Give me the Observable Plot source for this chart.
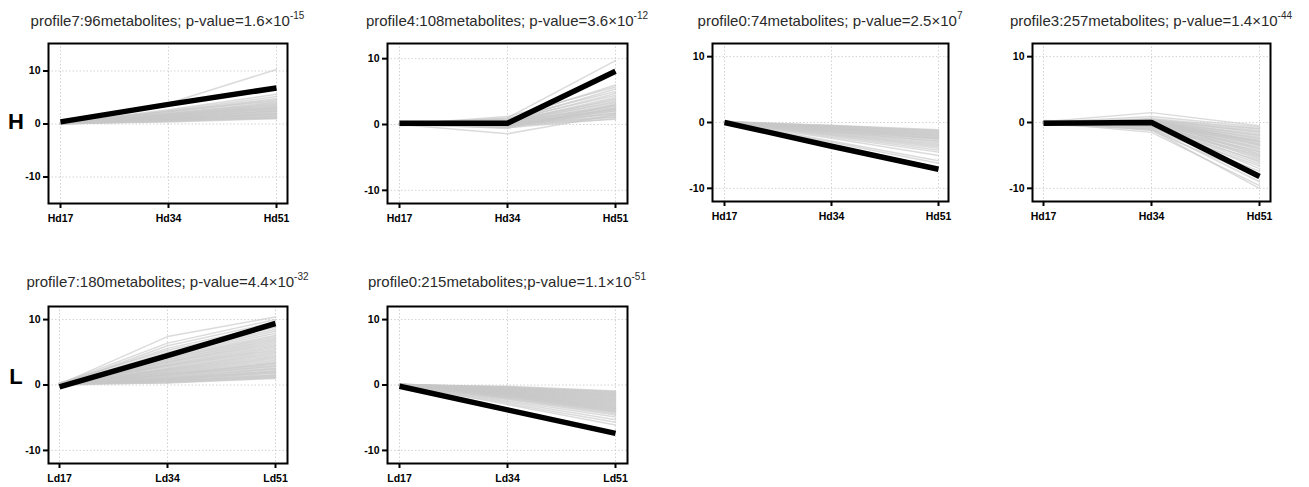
<!DOCTYPE html>
<html><head><meta charset="utf-8">
<script src="https://cdn.jsdelivr.net/npm/d3@7"></script>
<script src="https://cdn.jsdelivr.net/npm/@observablehq/plot@0.6"></script>
<style>
body{margin:0;background:#fff;}
#wrap{position:relative;width:1309px;height:487px;font-family:"Liberation Sans",Arial,sans-serif;overflow:hidden;}
.title{position:absolute;font-size:15px;line-height:15px;color:#2a2a2a;white-space:nowrap;transform:translateX(-50%);}
.title sup{font-size:10px;line-height:10px;vertical-align:0;position:relative;top:-7px;}
.row{position:absolute;font-size:22px;line-height:22px;font-weight:bold;color:#000;transform:translateX(-50%);}
.panel{position:absolute;}
</style></head><body><div id="wrap"></div><script>
// ---- data ----
const timesH = ["Hd17","Hd34","Hd51"];
const timesL = ["Ld17","Ld34","Ld51"];
const yTicks = [-10, 0, 10];
const rowLabels = ["H","L"];
const titleText = [
  "profile7:96metabolites; p-value=1.6×10",
  "profile4:108metabolites; p-value=3.6×10",
  "profile0:74metabolites; p-value=2.5×10",
  "profile3:257metabolites; p-value=1.4×10",
  "profile7:180metabolites; p-value=4.4×10",
  "profile0:215metabolites;p-value=1.1×10"
];
const titleExp = ["-15","-12","7","-44","-32","-51"];

// panel 1 (H, profile7)
const p1_17 = [0.1,0.2,0.0,0.3,0.1,0.2,0.0,0.1,0.3,0.2,0.0,0.1,0.2,0.0,0.1,0.3,0.2,0.1,0.0,0.2,0.1,0.3,0.0,0.1,0.2,0.0,0.1,0.2,0.0,0.1,0.0,0.1];
const p1_34 = [3.9,2.7,2.5,2.4,2.2,2.3,2.0,1.9,2.0,1.7,1.8,1.6,1.7,1.5,1.5,1.3,1.4,1.2,1.3,1.1,1.1,1.0,1.0,0.9,0.9,0.8,0.7,0.7,0.6,0.5,0.5,0.4];
const p1_51 = [10.3,5.6,5.2,4.8,4.6,4.4,4.2,4.0,3.8,3.7,3.5,3.4,3.2,3.1,3.0,2.9,2.8,2.6,2.5,2.4,2.3,2.1,2.0,1.9,1.8,1.7,1.5,1.4,1.3,1.2,1.1,1.0];
const p1_prof = [0.4,3.7,6.8];

// panel 2 (H, profile4)
const p2_17 = [0.1,0.2,0.0,0.3,-0.1,0.1,0.2,0.0,0.1,-0.2,0.2,0.0,0.1,0.3,-0.1,0.0,0.2,0.1,0.0,-0.1,0.1,0.2,0.0,0.1,-0.1,0.0,0.2,0.1,0.0,0.1,0.2,0.0];
const p2_34 = [1.0,0.8,1.2,0.6,0.9,0.5,0.7,0.4,0.3,0.6,0.2,0.5,0.1,0.3,0.0,0.4,-0.1,0.2,-0.2,0.1,-0.3,0.0,-1.4,-0.2,-0.4,0.1,-0.5,-0.3,0.2,-0.6,-0.1,0.0];
const p2_51 = [9.7,6.0,5.7,5.4,5.0,4.7,4.4,4.1,3.9,3.7,3.5,3.3,3.1,2.9,2.8,2.6,2.4,2.3,2.1,2.0,1.8,1.7,1.5,1.4,1.2,1.1,0.9,2.5,1.6,3.0,0.8,2.2];
const p2_prof = [0.2,0.2,8.1];

// panel 3 (H, profile0)
const p3_17 = [0.0,0.1,0.2,0.0,0.1,0.0,0.2,0.1,0.0,0.1,0.2,0.0,0.1,0.0,0.2,0.1,0.0,0.1,0.0,0.2,0.1,0.0,0.1,0.0,0.1,0.0,0.1,0.0];
const p3_34 = [-0.4,-0.5,-0.5,-0.6,-0.6,-0.7,-0.8,-0.8,-0.9,-0.9,-1.0,-1.0,-1.1,-1.2,-1.2,-1.3,-1.4,-1.4,-1.5,-1.6,-1.7,-1.8,-1.9,-2.0,-2.2,-2.4,-2.8,-3.0];
const p3_51 = [-1.1,-1.2,-1.3,-1.4,-1.5,-1.6,-1.7,-1.8,-1.9,-2.0,-2.1,-2.2,-2.3,-2.4,-2.5,-2.6,-2.8,-2.9,-3.1,-3.3,-3.5,-3.7,-3.9,-4.2,-4.5,-5.0,-5.8,-6.2];
const p3_prof = [0.0,-3.6,-7.1];

// panel 4 (H, profile3)
const p4_17 = [0.1,0.0,-0.1,0.2,0.0,0.1,-0.2,0.0,0.3,-0.1,0.1,0.0,-0.3,0.2,0.0,-0.1,0.1,0.0,0.2,-0.2,0.0,0.1,-0.1,0.0,0.2,0.0,-0.1,0.1,0.0,-0.2,0.1,0.0,0.2,-0.1,0.0,0.1,-0.3,0.0,0.1,-0.1,0.0,0.2,0.0,-0.1];
const p4_34 = [1.5,0.9,0.6,0.4,0.3,0.2,0.5,0.1,0.0,0.3,-0.1,0.2,0.0,-0.2,0.1,-0.3,0.4,-0.1,0.0,-0.4,0.2,-0.2,0.1,-0.5,0.0,-0.3,0.3,-0.6,-0.1,-0.4,0.0,-0.7,-0.2,-0.5,-0.8,-0.3,-1.0,-0.6,-1.2,-0.9,-1.5,-1.1,0.1,-0.2];
const p4_51 = [-0.5,-0.7,-0.9,-1.0,-1.2,-1.4,-1.5,-1.7,-1.9,-2.0,-2.2,-2.4,-2.5,-2.7,-2.9,-3.0,-3.2,-3.4,-3.5,-3.7,-3.9,-4.0,-4.2,-4.4,-4.5,-4.7,-4.9,-5.0,-5.2,-5.4,-5.6,-5.8,-6.0,-6.3,-6.6,-7.0,-7.4,-7.8,-8.3,-9.0,-9.6,-10.0,-3.3,-2.8];
const p4_prof = [-0.1,0.0,-8.2];

// panel 5 (L, profile7)
const p5_17 = [0.1,0.2,0.0,0.1,0.3,0.0,0.2,0.1,0.0,0.2,0.1,0.0,0.3,0.1,0.2,0.0,0.1,0.2,0.0,0.1,0.3,0.0,0.2,0.1,0.0,0.1,0.2,0.0,0.1,0.3,0.0,0.2,0.1,0.0,0.1,0.2,0.0,0.1,0.2,0.0,0.1,0.0,0.2,0.1,0.0,0.1,0.2,0.0,0.1,0.0];
const p5_34 = [7.4,6.4,6.0,5.6,5.3,5.0,4.8,4.6,4.4,4.2,4.1,3.9,3.8,3.6,3.5,3.4,3.2,3.1,3.0,2.9,2.8,2.6,2.5,2.4,2.3,2.2,2.1,2.0,1.9,1.8,1.7,1.6,1.5,1.4,1.3,1.2,1.1,1.0,1.0,0.9,0.8,0.8,0.7,0.6,0.6,0.5,0.4,0.4,0.3,1.6];
const p5_51 = [10.4,10.0,9.6,9.2,8.8,8.5,8.2,7.9,7.6,7.4,7.2,7.0,6.8,6.6,6.4,6.2,6.0,5.8,5.6,5.4,5.2,5.0,4.8,4.6,4.4,4.2,4.0,3.8,3.6,3.4,3.2,3.0,2.9,2.8,2.6,2.5,2.4,2.2,2.1,2.0,1.9,1.8,1.6,1.5,1.4,1.3,1.2,1.1,1.0,3.3];
const p5_prof = [-0.3,4.5,9.4];

// panel 6 (L, profile0)
const p6_17 = [0.0,0.1,0.0,0.1,0.0,0.1,0.0,0.1,0.0,0.1,0.0,0.1,0.0,0.1,0.0,0.1,0.0,0.1,0.0,0.1,0.0,0.1,0.0,0.1,0.0,0.1,0.0,0.1,0.0,0.1,0.0,0.1,0.0,0.1,0.0,0.1,0.0,0.1,0.0,0.1];
const p6_34 = [-0.2,-0.3,-0.3,-0.4,-0.4,-0.5,-0.5,-0.6,-0.6,-0.7,-0.7,-0.8,-0.8,-0.9,-0.9,-1.0,-1.0,-1.1,-1.1,-1.2,-1.2,-1.3,-1.3,-1.4,-1.4,-1.5,-1.5,-1.6,-1.6,-1.7,-1.8,-1.8,-1.9,-2.0,-2.1,-2.2,-2.4,-2.6,-2.8,-3.0];
const p6_51 = [-0.9,-1.0,-1.1,-1.2,-1.3,-1.4,-1.5,-1.6,-1.7,-1.8,-1.9,-2.0,-2.1,-2.2,-2.3,-2.4,-2.5,-2.6,-2.7,-2.8,-2.9,-3.0,-3.1,-3.2,-3.3,-3.4,-3.5,-3.6,-3.7,-3.8,-3.9,-4.0,-4.1,-4.2,-4.4,-4.6,-4.9,-5.3,-5.7,-6.1];
const p6_prof = [-0.2,-3.8,-7.4];

// ---- layout ----
const panels = [
  {times: timesH, g: [p1_17,p1_34,p1_51], prof: p1_prof, yMax: 15, L:48,  R:287,  T:43,  B:203, inTop:1, inL:11, inR:11},
  {times: timesH, g: [p2_17,p2_34,p2_51], prof: p2_prof, yMax: 12, L:387, R:627,  T:43,  B:203, inTop:2, inL:12, inR:12},
  {times: timesH, g: [p3_17,p3_34,p3_51], prof: p3_prof, yMax: 12, L:712, R:948,  T:43,  B:201, inTop:0, inL:11, inR:10},
  {times: timesH, g: [p4_17,p4_34,p4_51], prof: p4_prof, yMax: 12, L:1032,R:1270, T:43,  B:201, inTop:0, inL:11, inR:11},
  {times: timesL, g: [p5_17,p5_34,p5_51], prof: p5_prof, yMax: 12, L:48,  R:287,  T:306, B:463, inTop:0, inL:11, inR:12},
  {times: timesL, g: [p6_17,p6_34,p6_51], prof: p6_prof, yMax: 12, L:387, R:627,  T:306, B:463, inTop:0, inL:11, inR:12}
];
const titleTop = [13, 13, 13, 13, 274, 274];
const rowPos = [{x:16, top:111}, {x:16, top:366}];

const wrap = document.getElementById("wrap");
const ml = 45, mr = 8, mt = 6, mb = 30;

panels.forEach((p, k) => {
  const grey = [];
  p.g[0].forEach((_, i) => {
    p.times.forEach((t, j) => grey.push({id: i, t, v: p.g[j][i]}));
  });
  const prof = p.times.map((t, j) => ({t, v: p.prof[j]}));
  const chart = Plot.plot({
    width: ml + (p.R - p.L) + mr,
    height: mt + (p.B - p.T) + mb,
    marginLeft: ml, marginRight: mr, marginTop: mt, marginBottom: mb,
    style: {fontFamily: "Liberation Sans, Arial, sans-serif", background: "transparent", color: "black", overflow: "visible"},
    x: {type: "point", domain: p.times, padding: 0, insetLeft: p.inL, insetRight: p.inR, label: null},
    y: {domain: [-p.yMax, p.yMax], insetTop: p.inTop, label: null},
    marks: [
      Plot.gridX({stroke: "#d2d2d2", strokeOpacity: 1, strokeDasharray: "1.5,2"}),
      Plot.gridY({ticks: yTicks, stroke: "#d2d2d2", strokeOpacity: 1, strokeDasharray: "1.5,2"}),
      Plot.line(grey, {x: "t", y: "v", z: "id", stroke: "#c8c8c8", strokeOpacity: 0.65, strokeWidth: 1.5}),
      Plot.line(prof, {x: "t", y: "v", stroke: "black", strokeWidth: 5.5, strokeLinecap: "butt"}),
      Plot.frame({stroke: "black", strokeWidth: 2}),
      Plot.axisX({tickSize: 5, tickPadding: 6, fontSize: 10.5, fontWeight: "bold", strokeWidth: 2, label: null}),
      Plot.axisY({ticks: yTicks, tickSize: 5, tickPadding: 3, fontSize: 10.5, fontWeight: "bold", strokeWidth: 2, tickFormat: d => String(d), label: null})
    ]
  });
  const div = document.createElement("div");
  div.className = "panel";
  div.style.left = (p.L - ml) + "px";
  div.style.top = (p.T - mt) + "px";
  div.appendChild(chart);
  wrap.appendChild(div);

  const t = document.createElement("div");
  t.className = "title";
  t.style.left = ((p.L + p.R) / 2) + "px";
  t.style.top = titleTop[k] + "px";
  t.textContent = titleText[k];
  const sup = document.createElement("sup");
  sup.textContent = titleExp[k];
  t.appendChild(sup);
  wrap.appendChild(t);
});

rowLabels.forEach((lab, i) => {
  const d = document.createElement("div");
  d.className = "row";
  d.style.left = rowPos[i].x + "px";
  d.style.top = rowPos[i].top + "px";
  d.textContent = lab;
  wrap.appendChild(d);
});
</script></body></html>
